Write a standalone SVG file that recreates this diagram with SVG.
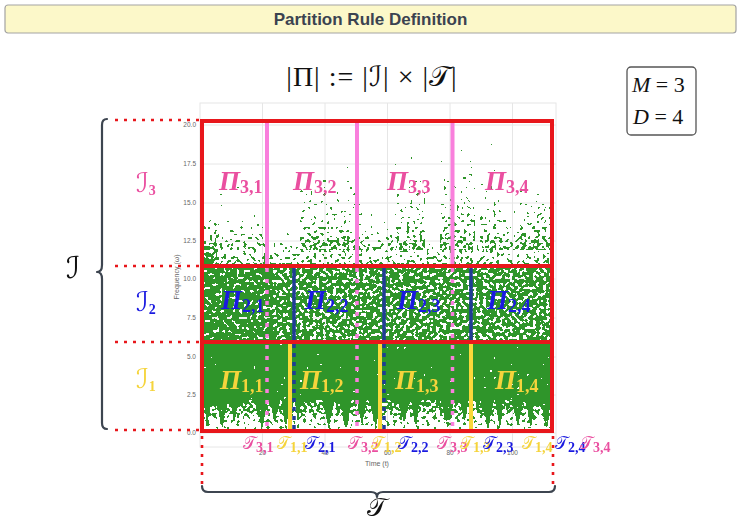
<svg xmlns="http://www.w3.org/2000/svg" width="741" height="523" viewBox="0 0 741 523">
<defs>
<style>
.title{font:bold 17px "Liberation Sans",Arial,sans-serif;fill:#3b4350}
.math{font-family:"Liberation Serif","Times New Roman",serif;fill:#111}
.scr{font-family:"DejaVu Sans","DejaVu Serif",serif}
.scrT{font-family:"DejaVu Serif","DejaVu Sans",serif}
.tick{font:6.5px "Liberation Sans",Arial,sans-serif;fill:#666}
.alab{font:7px "Liberation Sans",Arial,sans-serif;fill:#666}
.grid{stroke:#e6e6e6;stroke-width:1;fill:none}
.red{stroke:#e8161b;stroke-width:4;fill:none}
.rdot{stroke:#e8161b;stroke-width:2.6;stroke-dasharray:3 6;fill:none}
.pi{font-family:"Liberation Serif","Times New Roman",serif;font-style:italic;font-weight:bold;font-size:27px}
.sub{font-style:normal;font-size:18px}
.tl{font-family:"DejaVu Serif","DejaVu Sans",serif;font-size:17px}
.ts{font-family:"Liberation Serif","Times New Roman",serif;font-size:14px;font-weight:bold}
.pink{fill:#ea4fa0}
.blue{fill:#1a1ae0}
.yel{fill:#f5d43c}
.lp{stroke:#f97fdc;stroke-width:4}
.lpd{stroke:#f97fdc;stroke-width:3.5;stroke-dasharray:4 7}
.lb{stroke:#203c96;stroke-width:3.5}
.lbd{stroke:#203c96;stroke-width:3.5;stroke-dasharray:4 5}
.ly{stroke:#f9d93a;stroke-width:4}
.brace{stroke:#3d4550;stroke-width:2.2;fill:none;stroke-linecap:round;stroke-linejoin:round}
.sp{fill:#000;opacity:0.9}
</style>
<linearGradient id="up" x1="0" y1="0" x2="0" y2="1">
<stop offset="0" stop-color="#000" stop-opacity="0"/>
<stop offset="0.5" stop-color="#000" stop-opacity="0.45"/>
<stop offset="1" stop-color="#000" stop-opacity="1"/>
</linearGradient>
<linearGradient id="down" x1="0" y1="0" x2="0" y2="1">
<stop offset="0" stop-color="#000" stop-opacity="1"/>
<stop offset="1" stop-color="#000" stop-opacity="0.25"/>
</linearGradient>
<filter id="scatter" x="200" y="115" width="360" height="320" filterUnits="userSpaceOnUse" color-interpolation-filters="sRGB">
<feTurbulence type="fractalNoise" baseFrequency="0.3" numOctaves="1" seed="11" result="n"/>
<feColorMatrix in="n" type="matrix" values="0 0 0 0 0 0 0 0 0 0 0 0 0 0 0 1 0 0 0 0" result="na"/>
<feComposite in="na" in2="SourceAlpha" operator="arithmetic" k1="0" k2="1" k3="0.55" k4="-0.3" result="sum"/>
<feComponentTransfer in="sum" result="th"><feFuncA type="discrete" tableValues="0 1"/></feComponentTransfer>
<feComponentTransfer in="SourceAlpha" result="m"><feFuncA type="linear" slope="60" intercept="0"/></feComponentTransfer>
<feComposite in="th" in2="m" operator="in" result="dots"/>
<feFlood flood-color="#2f952a"/>
<feComposite in2="dots" operator="in"/>
</filter>
</defs>
<rect width="741" height="523" fill="#fff"/>

<g id="title">
<rect x="5" y="5" width="731" height="28" rx="3" fill="#fcf8c9" stroke="#a3a3a3" stroke-width="1.2"/>
<text class="title" x="370.5" y="25" text-anchor="middle">Partition Rule Definition</text>
</g>

<g id="formula">
<text class="math" x="372" y="86" text-anchor="middle" font-size="28" letter-spacing="1">|Π| := |<tspan class="scr" font-style="italic">ℐ</tspan>| × |<tspan class="scrT">𝒯</tspan>|</text>
</g>

<g id="params">
<rect x="627" y="67" width="69" height="68" rx="4" fill="#fff" stroke="#555" stroke-width="1.3"/>
<text class="math" x="632" y="92" font-size="22"><tspan font-style="italic">M</tspan> = 3</text>
<text class="math" x="633" y="124" font-size="22"><tspan font-style="italic">D</tspan> = 4</text>
</g>

<g id="plot-axes">
<rect x="200" y="103" width="356" height="344" class="grid"/>
<path class="grid" d="M262.5,103V447M325,103V447M387.5,103V447M450,103V447M512.5,103V447M200,125H556M200,164H556M200,203H556M200,241H556M200,279H556M200,318H556M200,357H556M200,395H556M200,433H556"/>
<g class="tick" text-anchor="end">
<text x="196" y="127">20.0</text><text x="196" y="166">17.5</text><text x="196" y="205">15.0</text><text x="196" y="243">12.5</text><text x="196" y="281">10.0</text><text x="196" y="320">7.5</text><text x="196" y="359">5.0</text><text x="196" y="397">2.5</text><text x="196" y="435">0.0</text>
</g>
<g class="tick" text-anchor="middle">
<text x="262.5" y="455">20</text><text x="325" y="455">40</text><text x="387.5" y="455">60</text><text x="450" y="455">80</text><text x="512.5" y="455">100</text>
</g>
<text class="alab" x="377" y="466" text-anchor="middle">Time (t)</text>
<text class="alab" transform="translate(179,277) rotate(-90)" text-anchor="middle">Frequency (ω)</text>
</g>

<g id="scatter-points" filter="url(#scatter)">
<rect x="203" y="343" width="348" height="57" fill="#000" opacity="1"/>
<rect x="203" y="400" width="348" height="30" fill="url(#down)" opacity="0.72"/>
<polygon class="sp" points="204,398 212,398 207,428"/>
<polygon class="sp" points="216,398 228,398 222,430"/>
<polygon class="sp" points="230,398 240,398 234,422"/>
<polygon class="sp" points="254,398 268,398 262,430"/>
<polygon class="sp" points="270,398 280,398 275,424"/>
<polygon class="sp" points="281,398 290,398 286,430"/>
<polygon class="sp" points="294,398 302,398 298,418"/>
<polygon class="sp" points="322,398 334,398 329,430"/>
<polygon class="sp" points="338,398 352,398 346,430"/>
<polygon class="sp" points="357,398 367,398 362,425"/>
<polygon class="sp" points="369,398 381,398 376,430"/>
<polygon class="sp" points="398,398 410,398 404,424"/>
<polygon class="sp" points="411,398 420,398 416,430"/>
<polygon class="sp" points="440,398 454,398 448,430"/>
<polygon class="sp" points="459,398 469,398 465,422"/>
<polygon class="sp" points="480,398 494,398 488,430"/>
<polygon class="sp" points="495,398 504,398 500,430"/>
<polygon class="sp" points="511,398 523,398 518,426"/>
<polygon class="sp" points="525,398 535,398 531,430"/>
<polygon class="sp" points="539,398 551,398 547,430"/>
<rect x="203" y="267" width="70" height="75" fill="#000" opacity="0.78"/>
<rect x="273" y="267" width="278" height="75" fill="#000" opacity="0.65"/>
<rect x="203" y="228" width="348" height="38" fill="url(#up)" opacity="0.48"/>
<rect x="203" y="200" width="14" height="66" fill="url(#up)" opacity="0.6"/>
<rect x="215" y="160" width="50" height="90" fill="url(#up)" opacity="0.25"/>
<rect x="300" y="145" width="60" height="105" fill="url(#up)" opacity="0.4"/>
<rect x="360" y="190" width="35" height="60" fill="url(#up)" opacity="0.3"/>
<rect x="395" y="135" width="30" height="115" fill="url(#up)" opacity="0.4"/>
<rect x="440" y="125" width="35" height="125" fill="url(#up)" opacity="0.4"/>
<rect x="480" y="140" width="20" height="110" fill="url(#up)" opacity="0.4"/>
<rect x="500" y="185" width="20" height="65" fill="url(#up)" opacity="0.3"/>
<rect x="520" y="165" width="31" height="85" fill="url(#up)" opacity="0.48"/>
</g>

<g id="guides">
<path class="rdot" d="M115,120H199M115,266H199M115,342H199M115,430H199"/>
<path class="rdot" d="M202,436V490M553,436V490"/>
</g>

<g id="cuts">
<path class="lp" d="M267,122V265M357,122V265M452.5,122V265"/>
<path class="lpd" d="M267,268V430M357,268V430M452.5,268V430"/>
<path class="lb" d="M294,268V342M384,268V342M471,268V342"/>
<path class="lbd" d="M294,344V430M384,344V430"/>
<path class="ly" d="M290,344V431M380,344V431M471,344V431"/>
</g>

<g id="partition-grid">
<rect class="red" x="202" y="121" width="350" height="310"/>
<path class="red" d="M202,266H552M202,342H552"/>
</g>

<g id="braces">
<path class="brace" d="M107,119Q102,119 102,125L102,265Q102,272 97,272Q102,272 102,279L102,423Q102,429 107,429"/>
<path class="brace" d="M202,486Q202,492 208,492L371,492Q377,492 377,497Q377,492 383,492L549,492Q555,492 555,486"/>
<text class="scr" x="73" y="278" text-anchor="middle" font-size="30" font-style="italic" fill="#111">ℐ</text>
<text class="scrT" x="377" y="516" text-anchor="middle" font-size="26" fill="#111">𝒯</text>
</g>

<g id="interval-labels">
<text class="scr pink" x="136" y="192" font-size="27" font-style="italic">ℐ<tspan class="ts" font-size="18" dy="3" font-style="normal">3</tspan></text>
<text class="scr blue" x="136" y="311" font-size="27" font-style="italic">ℐ<tspan class="ts" font-size="18" dy="3" font-style="normal">2</tspan></text>
<text class="scr yel" x="136" y="388" font-size="27" font-style="italic">ℐ<tspan class="ts" font-size="18" dy="3" font-style="normal">1</tspan></text>
</g>

<g id="partition-labels">
<text class="pi pink" x="219" y="190">Π<tspan class="sub" dy="3">3,1</tspan></text>
<text class="pi pink" x="293" y="190">Π<tspan class="sub" dy="3">3,2</tspan></text>
<text class="pi pink" x="387" y="190">Π<tspan class="sub" dy="3">3,3</tspan></text>
<text class="pi pink" x="485" y="190">Π<tspan class="sub" dy="3">3,4</tspan></text>
<text class="pi blue" x="221" y="309">Π<tspan class="sub" dy="3">2,1</tspan></text>
<text class="pi blue" x="305" y="309">Π<tspan class="sub" dy="3">2,2</tspan></text>
<text class="pi blue" x="397" y="309">Π<tspan class="sub" dy="3">2,3</tspan></text>
<text class="pi blue" x="487" y="309">Π<tspan class="sub" dy="3">2,4</tspan></text>
<text class="pi yel" x="220" y="389">Π<tspan class="sub" dy="3">1,1</tspan></text>
<text class="pi yel" x="300" y="389">Π<tspan class="sub" dy="3">1,2</tspan></text>
<text class="pi yel" x="395" y="389">Π<tspan class="sub" dy="3">1,3</tspan></text>
<text class="pi yel" x="495" y="389">Π<tspan class="sub" dy="3">1,4</tspan></text>
</g>

<g id="cut-labels">
<text class="tl pink" x="243" y="449">𝒯<tspan class="ts" dy="3">3,1</tspan></text>
<text class="tl yel" x="277" y="449">𝒯<tspan class="ts" dy="3">1,1</tspan></text>
<text class="tl blue" x="305" y="449">𝒯<tspan class="ts" dy="3">2,1</tspan></text>
<text class="tl pink" x="348" y="449">𝒯<tspan class="ts" dy="3">3,2</tspan></text>
<text class="tl yel" x="371" y="449">𝒯<tspan class="ts" dy="3">1,2</tspan></text>
<text class="tl blue" x="398" y="449">𝒯<tspan class="ts" dy="3">2,2</tspan></text>
<text class="tl pink" x="437" y="449">𝒯<tspan class="ts" dy="3">3,3</tspan></text>
<text class="tl yel" x="460" y="449">𝒯<tspan class="ts" dy="3">1,3</tspan></text>
<text class="tl blue" x="483" y="449">𝒯<tspan class="ts" dy="3">2,3</tspan></text>
<text class="tl yel" x="522" y="449">𝒯<tspan class="ts" dy="3">1,4</tspan></text>
<text class="tl blue" x="555" y="449">𝒯<tspan class="ts" dy="3">2,4</tspan></text>
<text class="tl pink" x="580" y="449">𝒯<tspan class="ts" dy="3">3,4</tspan></text>
</g>
</svg>
